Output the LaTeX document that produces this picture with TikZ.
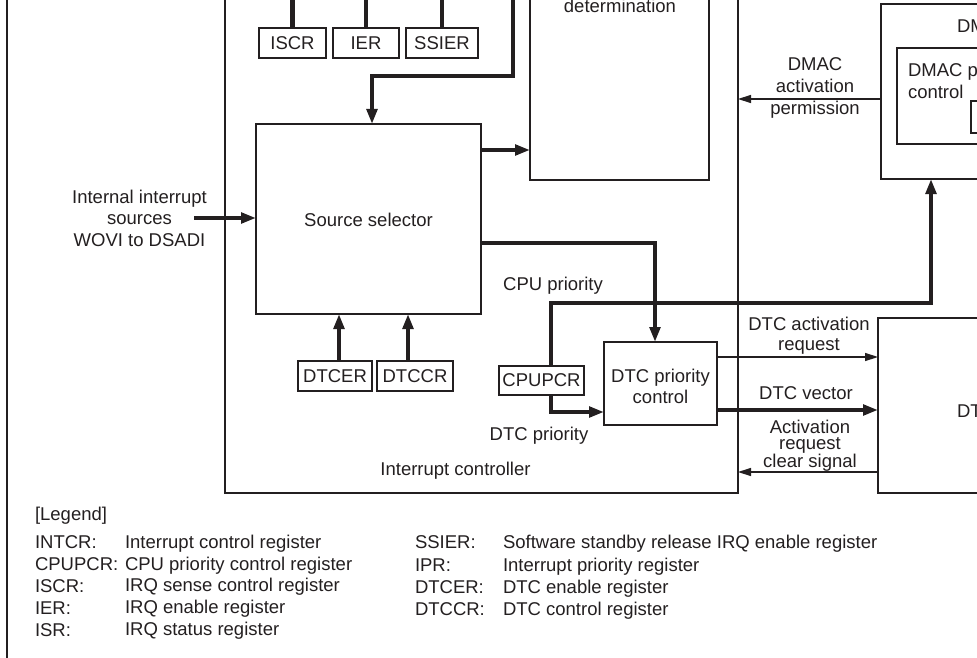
\documentclass[tikz,border=0pt]{standalone}
\usepackage{fontspec}
\setmainfont{Liberation Sans}
\usetikzlibrary{arrows.meta}
\definecolor{ink}{RGB}{35,31,32}
\newcommand{\mls}[2]{\begin{tabular}[t]{@{}#1@{}}#2\end{tabular}}
\begin{document}
\begin{tikzpicture}[x=1pt,y=-1pt,
  box/.style={draw=ink, line width=2.5pt, inner sep=0pt, outer sep=0pt, anchor=north west, text=ink},
  lbl/.style={text=ink, inner sep=0pt, outer sep=0pt, anchor=base},
  lblw/.style={lbl, anchor=base west},
  wire/.style={draw=ink, line width=4.2pt},
  thk/.style={draw=ink, line width=4.2pt, -{Triangle[length=15pt,width=10.5pt]}},
  thn/.style={draw=ink, line width=1.4pt, -{Triangle[length=13pt,width=8pt]}},
  font=\fontsize{18.5}{21.5}\selectfont]
\useasboundingbox (0,0) rectangle (977,658);
\clip (0,0) rectangle (977,658);
% boxes
\node[box, minimum width=1300pt, minimum height=800pt] (frame) at (7,-60) {};
\node[box, minimum width=513pt, minimum height=793pt] (IC) at (225,-300) {};
\node[box, minimum width=179pt, minimum height=480pt] (PD) at (530,-300) {};
\node[box, minimum width=225pt, minimum height=190pt] (SS) at (256,124) {};
\node[box, minimum width=67pt, minimum height=30pt] (ISCR) at (259,28) {ISCR};
\node[box, minimum width=66pt, minimum height=30pt] (IER) at (333,28) {IER};
\node[box, minimum width=72pt, minimum height=30pt] (SSIER) at (406,28) {SSIER};
\node[box, minimum width=74pt, minimum height=30pt] (DTCER) at (298,361) {DTCER};
\node[box, minimum width=76pt, minimum height=30pt] (DTCCR) at (377,361) {DTCCR};
\node[box, minimum width=85pt, minimum height=29pt] (CPUPCR) at (499,366) {CPUPCR};
\node[box, minimum width=113pt, minimum height=83pt] (DPC) at (604,342) {};
\node[box, minimum width=300pt, minimum height=175pt] (DMACb) at (881,4) {};
\node[box, minimum width=300pt, minimum height=96pt] (DMACin) at (897,48) {};
\node[box, minimum width=100pt, minimum height=32pt] (DMACreg) at (971,101) {};
\node[box, minimum width=300pt, minimum height=175pt] (DTCb) at (878,318) {};
% coordinates
\coordinate (top) at (0,-10);
\coordinate (k1) at (513,-10);
\coordinate (ya) at (0,150);
\coordinate (a0) at (194,218);
\coordinate (yb) at (0,243);
\coordinate (yc) at (0,412);
\coordinate (yd) at (0,303);
\coordinate (xd) at (931,0);
\coordinate (ye) at (0,99);
\coordinate (yf) at (0,357);
\coordinate (yg) at (0,410);
\coordinate (yh) at (0,472);
% connectors
\draw[wire] (ISCR.north) -- (ISCR.north |- top);
\draw[wire] (IER.north) -- (IER.north |- top);
\draw[wire] (SSIER.north) -- (SSIER.north |- top);
\draw[thk] (k1) -- (513,76) -| ([xshift=3.5pt]SS.north);
\draw[thk] (SS.east |- ya) -- (PD.west |- ya);
\draw[thk] (a0) -- (SS.west |- a0);
\draw[thk] ([xshift=4pt]DTCER.north) -- ([xshift=4pt]DTCER.north |- SS.south);
\draw[thk] ([xshift=-7pt]DTCCR.north) -- ([xshift=-7pt]DTCCR.north |- SS.south);
\draw[thk] (SS.east |- yb) -| ([xshift=-5.5pt]DPC.north);
\draw[thk] ([xshift=9.5pt]CPUPCR.south) |- (DPC.west |- yc);
\draw[thk] ([xshift=9.5pt]CPUPCR.north) |- (xd |- yd) -- (xd |- DMACb.south);
\draw[thn] (DMACb.west |- ye) -- (IC.east |- ye);
\draw[thn] (DPC.east |- yf) -- (DTCb.west |- yf);
\draw[thk] (DPC.east |- yg) -- (DTCb.west |- yg);
\draw[thn] (DTCb.west |- yh) -- (IC.east |- yh);
% labels
\node[lbl] (tdet) at (620,13) {determination};
\node[lbl] (tsrc) at (139.5,203) {\mls{c}{Internal interrupt\\sources\\WOVI to DSADI}};
\node[lbl] (tss) at (368.5,226) {Source selector};
\node[lbl] (tcpu) at (553,290) {CPU priority};
\node[lbl] (tdtcp) at (539,440) {DTC priority};
\node[lbl] (tic) at (455.5,475) {Interrupt controller};
\node[lbl] (tdpc) at (660.5,382) {\mls{c}{DTC priority\\control}};
\node[lbl, font=\fontsize{18.5}{22}\selectfont] (tdmap) at (815,71) {\mls{c}{DMAC\\activation\\permission}};
\node[lbl, font=\fontsize{18.5}{20.5}\selectfont] (tdar) at (809,330) {\mls{c}{DTC activation\\request}};
\node[lbl] (tdv) at (806,399) {DTC vector};
\node[lbl, font=\fontsize{18.5}{16}\selectfont] (tarc) at (810,433) {\mls{c}{Activation\\request\\clear signal}};
\node[lblw] (tdmac) at (957,33) {DMAC};
\node[lblw, font=\fontsize{18.5}{22}\selectfont] (tdmpc) at (908,77) {\mls{l}{DMAC priority\\control}};
\node[lblw] (tdtc) at (957,417) {DTC};
% legend
\node[lblw] (lg) at (35,520) {[Legend]};
\node[lblw] (lk1) at (35,548) {INTCR:};
\node[lblw] (ld1) at (125,548) {Interrupt control register};
\node[lblw] (lk2) at (35,570) {CPUPCR:};
\node[lblw] (ld2) at (125,570) {CPU priority control register};
\node[lblw] (lk3) at (35,592) {ISCR:};
\node[lblw] (ld3) at (125,591) {IRQ sense control register};
\node[lblw] (lk4) at (35,614) {IER:};
\node[lblw] (ld4) at (125,613) {IRQ enable register};
\node[lblw] (lk5) at (35,636) {ISR:};
\node[lblw] (ld5) at (125,635) {IRQ status register};
\node[lblw] (rk1) at (415,548) {SSIER:};
\node[lblw] (rd1) at (503,548) {Software standby release IRQ enable register};
\node[lblw] (rk2) at (415,571) {IPR:};
\node[lblw] (rd2) at (503,571) {Interrupt priority register};
\node[lblw] (rk3) at (415,593) {DTCER:};
\node[lblw] (rd3) at (503,593) {DTC enable register};
\node[lblw] (rk4) at (415,615) {DTCCR:};
\node[lblw] (rd4) at (503,615) {DTC control register};
\end{tikzpicture}
\end{document}
